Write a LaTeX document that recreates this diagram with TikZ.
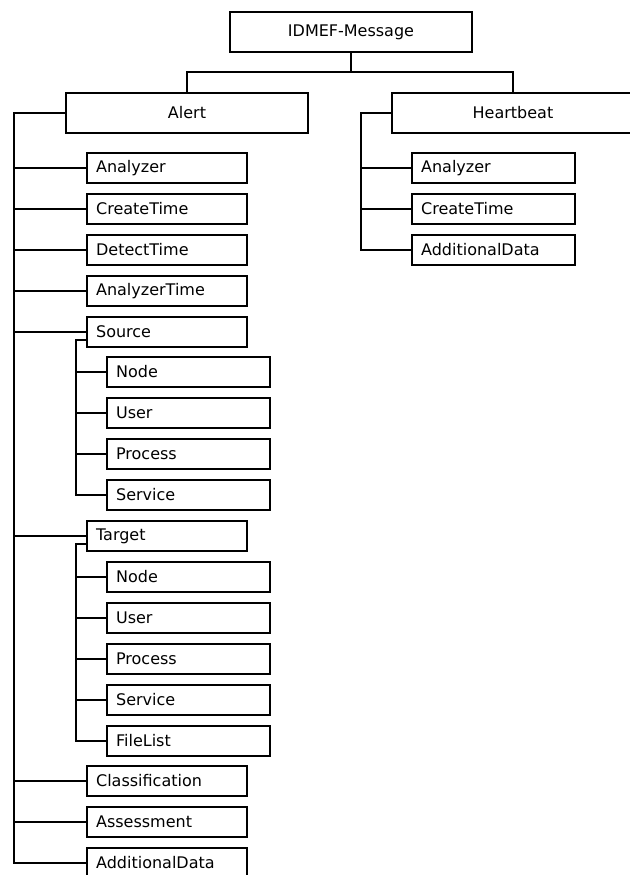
\documentclass[tikz,border=0pt]{standalone}
\usepackage{fontspec}
\setmainfont{DejaVu Sans}

\tikzset{
  topbox/.style={draw,line width=2.2pt,minimum width=242pt,minimum height=40pt,inner sep=0pt},
  field/.style={draw,line width=2.2pt,anchor=west,text width=#1,inner xsep=9pt,inner ysep=0pt,
    minimum height=30pt,align=left},
  field/.default=141.5pt,
  wire/.style={line width=2pt},
}

\begin{document}
\begin{tikzpicture}[x=1pt,y=-1pt,font=\fontsize{16}{19}\selectfont]
  \useasboundingbox (0,0) rectangle (629,875);

  % root and the two message kinds
  \node[topbox] (msg) at (351,32) {IDMEF-Message};
  \node[topbox] (alert) at (187,113) {Alert};
  \node[topbox] (hb) at (513,113) {Heartbeat};
  \coordinate (split) at (349,72);

  % Alert
  \node[field] (a-an) at (86,168) {Analyzer};
  \node[field] (a-ct) at (86,209) {CreateTime};
  \node[field] (a-dt) at (86,250) {DetectTime};
  \node[field] (a-at) at (86,291) {AnalyzerTime};
  \node[field] (src) at (86,332) {Source};
  \node[field=145pt] (s-node) at (106,372) {Node};
  \node[field=145pt] (s-user) at (106,413) {User};
  \node[field=145pt] (s-proc) at (106,454) {Process};
  \node[field=145pt] (s-svc) at (106,495) {Service};
  \node[field] (tgt) at (86,536) {Target};
  \node[field=145pt] (t-node) at (106,577) {Node};
  \node[field=145pt] (t-user) at (106,618) {User};
  \node[field=145pt] (t-proc) at (106,659) {Process};
  \node[field=145pt] (t-svc) at (106,700) {Service};
  \node[field=145pt] (t-file) at (106,741) {FileList};
  \node[field] (a-cl) at (86,781) {Classification};
  \node[field] (a-as) at (86,822) {Assessment};
  \node[field] (a-add) at (86,863) {AdditionalData};

  % Heartbeat
  \node[field=145pt] (h-an) at (411,168) {Analyzer};
  \node[field=145pt] (h-ct) at (411,209) {CreateTime};
  \node[field=145pt] (h-add) at (411,250) {AdditionalData};

  % tree lines
  \draw[wire] (msg.south) -- (msg.south |- split);
  \draw[wire] (alert.north) |- (split) -| (hb.north);

  \draw[wire] (alert.west) -- ++(-51,0) coordinate (atrunk) |- (a-add.west)
    (a-an.west) -- (a-an.west -| atrunk)
    (a-ct.west) -- (a-ct.west -| atrunk)
    (a-dt.west) -- (a-dt.west -| atrunk)
    (a-at.west) -- (a-at.west -| atrunk)
    (src.west) -- (src.west -| atrunk)
    (tgt.west) -- (tgt.west -| atrunk)
    (a-cl.west) -- (a-cl.west -| atrunk)
    (a-as.west) -- (a-as.west -| atrunk);

  \draw[wire] ([yshift=-8pt]src.west) -- ++(-10,0) coordinate (strunk) |- (s-svc.west)
    (s-node.west) -- (s-node.west -| strunk)
    (s-user.west) -- (s-user.west -| strunk)
    (s-proc.west) -- (s-proc.west -| strunk);

  \draw[wire] ([yshift=-8pt]tgt.west) -- ++(-10,0) coordinate (ttrunk) |- (t-file.west)
    (t-node.west) -- (t-node.west -| ttrunk)
    (t-user.west) -- (t-user.west -| ttrunk)
    (t-proc.west) -- (t-proc.west -| ttrunk)
    (t-svc.west) -- (t-svc.west -| ttrunk);

  \draw[wire] (hb.west) -- ++(-30,0) coordinate (htrunk) |- (h-add.west)
    (h-an.west) -- (h-an.west -| htrunk)
    (h-ct.west) -- (h-ct.west -| htrunk);
\end{tikzpicture}
\end{document}
